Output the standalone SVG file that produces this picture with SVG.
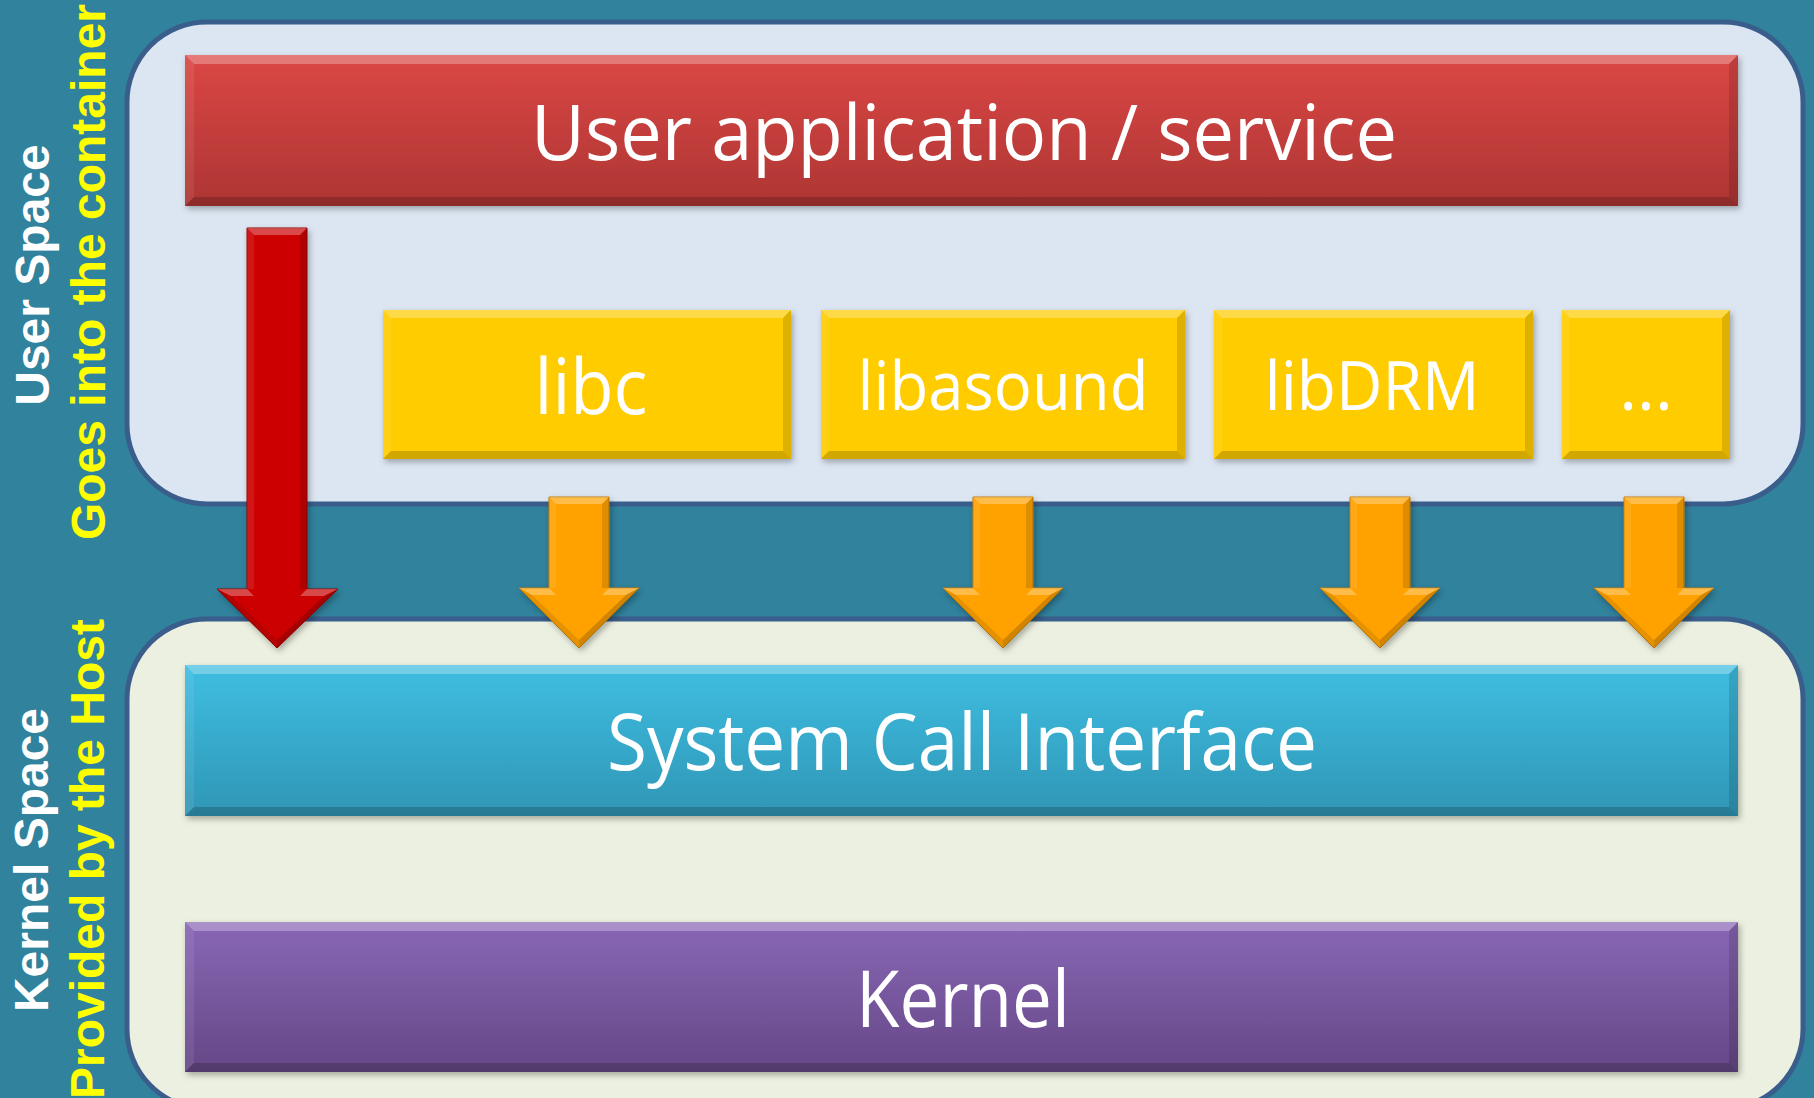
<svg xmlns="http://www.w3.org/2000/svg" width="1814" height="1098" viewBox="0 0 1814 1098">
  <style>
    .panel { stroke: #3A5E8C; stroke-width: 5; }
    .side { font-family: "Liberation Sans", Arial, sans-serif; font-weight: bold; font-size: 48px; text-anchor: middle; }
    .side-w { fill: #FFFFFF; }
    .side-y { fill: #FFFF00; }
    .label { font-family: "Open Sans", "Noto Sans", sans-serif; fill: #FFFFFF; text-anchor: middle; }
    .hl { fill: #FFFFFF; opacity: 0.28; }
    .hl-soft { fill: #FFFFFF; opacity: 0.08; }
    .sh { fill: #000000; opacity: 0.18; }
    .sh-side { fill: #000000; opacity: 0.13; }
    .sh-soft { fill: #000000; opacity: 0.10; }
  </style>
  <defs>
    <linearGradient id="gRed" x1="0" y1="0" x2="0" y2="1">
      <stop offset="0" stop-color="#DB4745"/>
      <stop offset="1" stop-color="#AD3533"/>
    </linearGradient>
    <linearGradient id="gCyan" x1="0" y1="0" x2="0" y2="1">
      <stop offset="0" stop-color="#3FBEE2"/>
      <stop offset="1" stop-color="#2F96B5"/>
    </linearGradient>
    <linearGradient id="gPurple" x1="0" y1="0" x2="0" y2="1">
      <stop offset="0" stop-color="#8967B6"/>
      <stop offset="1" stop-color="#654786"/>
    </linearGradient>
    <filter id="shadow" x="-5%" y="-10%" width="110%" height="130%">
      <feDropShadow dx="2" dy="3" stdDeviation="3" flood-color="#000000" flood-opacity="0.3"/>
    </filter>
    <!-- orange connector arrow, top-centre at origin -->
    <g id="arrowOrange">
      <path d="M-30,0 L30,0 L30,91 L60,91 L0,151 L-60,91 L-30,91 Z" fill="#FFA202" stroke="#C47A00" stroke-width="1"/>
      <path class="hl" d="M-30,0 L30,0 L23,7 L-23,7 Z"/>
      <path class="hl-soft" d="M-30,0 L-23,7 L-23,91 L-30,91 Z"/>
      <path class="sh-side" d="M30,0 L23,7 L23,91 L30,91 Z"/>
      <path class="hl" d="M-60,91 L-30,91 L-23,98 L-47,98 Z"/>
      <path class="hl" d="M30,91 L60,91 L47,98 L23,98 Z"/>
      <path class="sh-soft" d="M-60,91 L-47,98 L0,143 L0,151 Z"/>
      <path class="sh" d="M60,91 L0,151 L0,143 L47,98 Z"/>
    </g>
  </defs>

  <!-- backdrop -->
  <rect id="background" x="0" y="0" width="1814" height="1098" fill="#31829D"/>

  <!-- user space container -->
  <g id="panel-user">
    <rect class="panel" x="127" y="22" width="1676" height="482" rx="80" ry="80" fill="#DCE6F2"/>
  </g>

  <!-- kernel space container -->
  <g id="panel-kernel">
    <rect class="panel" x="127" y="619" width="1676" height="490" rx="80" ry="80" fill="#EBF0E0"/>
  </g>

  <!-- vertical side captions -->
  <g id="side-labels">
    <text class="side side-w" transform="translate(49,275) rotate(-90)">User Space</text>
    <text class="side side-y" transform="translate(105,272) rotate(-90)">Goes into the container</text>
    <text class="side side-w" transform="translate(48,860) rotate(-90)">Kernel Space</text>
    <text class="side side-y" transform="translate(104,859) rotate(-90)">Provided by the Host</text>
  </g>

  <!-- user application -->
  <g id="node-app">
    <rect x="185" y="55" width="1553" height="151" fill="url(#gRed)" filter="url(#shadow)"/>
    <path class="hl" d="M185,55 L1738,55 L1729,64 L194,64 Z"/>
    <path class="hl-soft" d="M185,55 L194,64 L194,197 L185,206 Z"/>
    <path class="sh-side" d="M1738,55 L1729,64 L1729,197 L1738,206 Z"/>
    <path class="sh" d="M185,206 L1738,206 L1729,197 L194,197 Z"/>
    <text class="label" x="964" y="160" font-size="77" textLength="866" lengthAdjust="spacingAndGlyphs">User application / service</text>
  </g>

  <!-- libraries -->
  <g id="node-libc">
    <rect x="383" y="310" width="408" height="149" fill="#FFCC05" filter="url(#shadow)"/>
    <path class="hl" d="M383,310 L791,310 L783,318 L391,318 Z"/>
    <path class="hl-soft" d="M383,310 L391,318 L391,451 L383,459 Z"/>
    <path class="sh-side" d="M791,310 L783,318 L783,451 L791,459 Z"/>
    <path class="sh" d="M383,459 L791,459 L783,451 L391,451 Z"/>
    <text class="label" x="591" y="414" font-size="76" textLength="113" lengthAdjust="spacingAndGlyphs">libc</text>
  </g>
  <g id="node-libasound">
    <rect x="821" y="310" width="364" height="149" fill="#FFCC05" filter="url(#shadow)"/>
    <path class="hl" d="M821,310 L1185,310 L1177,318 L829,318 Z"/>
    <path class="hl-soft" d="M821,310 L829,318 L829,451 L821,459 Z"/>
    <path class="sh-side" d="M1185,310 L1177,318 L1177,451 L1185,459 Z"/>
    <path class="sh" d="M821,459 L1185,459 L1177,451 L829,451 Z"/>
    <text class="label" x="1003" y="410" font-size="67" textLength="291" lengthAdjust="spacingAndGlyphs">libasound</text>
  </g>
  <g id="node-libdrm">
    <rect x="1214" y="310" width="319" height="149" fill="#FFCC05" filter="url(#shadow)"/>
    <path class="hl" d="M1214,310 L1533,310 L1525,318 L1222,318 Z"/>
    <path class="hl-soft" d="M1214,310 L1222,318 L1222,451 L1214,459 Z"/>
    <path class="sh-side" d="M1533,310 L1525,318 L1525,451 L1533,459 Z"/>
    <path class="sh" d="M1214,459 L1533,459 L1525,451 L1222,451 Z"/>
    <text class="label" x="1372" y="410" font-size="68" textLength="215" lengthAdjust="spacingAndGlyphs">libDRM</text>
  </g>
  <g id="node-more">
    <rect x="1562" y="310" width="168" height="149" fill="#FFCC05" filter="url(#shadow)"/>
    <path class="hl" d="M1562,310 L1730,310 L1722,318 L1570,318 Z"/>
    <path class="hl-soft" d="M1562,310 L1570,318 L1570,451 L1562,459 Z"/>
    <path class="sh-side" d="M1730,310 L1722,318 L1722,451 L1730,459 Z"/>
    <path class="sh" d="M1562,459 L1730,459 L1722,451 L1570,451 Z"/>
    <text class="label" x="1646" y="410" font-size="68">...</text>
  </g>

  <!-- system call interface -->
  <g id="node-syscall">
    <rect x="185" y="665" width="1553" height="151" fill="url(#gCyan)" filter="url(#shadow)"/>
    <path class="hl" d="M185,665 L1738,665 L1729,674 L194,674 Z"/>
    <path class="hl-soft" d="M185,665 L194,674 L194,807 L185,816 Z"/>
    <path class="sh-side" d="M1738,665 L1729,674 L1729,807 L1738,816 Z"/>
    <path class="sh" d="M185,816 L1738,816 L1729,807 L194,807 Z"/>
    <text class="label" x="962" y="770" font-size="78" textLength="710" lengthAdjust="spacingAndGlyphs">System Call Interface</text>
  </g>

  <!-- kernel -->
  <g id="node-kernel">
    <rect x="185" y="922" width="1553" height="150" fill="url(#gPurple)" filter="url(#shadow)"/>
    <path class="hl" d="M185,922 L1738,922 L1729,931 L194,931 Z"/>
    <path class="hl-soft" d="M185,922 L194,931 L194,1063 L185,1072 Z"/>
    <path class="sh-side" d="M1738,922 L1729,931 L1729,1063 L1738,1072 Z"/>
    <path class="sh" d="M185,1072 L1738,1072 L1729,1063 L194,1063 Z"/>
    <text class="label" x="963" y="1027" font-size="78" textLength="214" lengthAdjust="spacingAndGlyphs">Kernel</text>
  </g>

  <!-- connectors -->
  <g id="connectors">
    <!-- direct call from the application down to the syscall layer -->
    <g id="arrow-direct" filter="url(#shadow)">
      <path d="M247,228 L307,228 L307,589 L338,589 L277,648 L217,589 L247,589 Z" fill="#CC0202" stroke="#8E0000" stroke-width="1"/>
      <path class="hl" d="M247,228 L307,228 L300,235 L254,235 Z"/>
      <path class="hl-soft" d="M247,228 L254,235 L254,589 L247,589 Z"/>
      <path class="sh-side" d="M307,228 L300,235 L300,589 L307,589 Z"/>
      <path class="hl" d="M217,589 L247,589 L254,596 L231,596 Z"/>
      <path class="hl" d="M307,589 L338,589 L324,596 L300,596 Z"/>
      <path class="sh-soft" d="M217,589 L231,596 L277,640 L277,648 Z"/>
      <path class="sh" d="M338,589 L277,648 L277,640 L324,596 Z"/>
    </g>
    <use href="#arrowOrange" transform="translate(579,497)" filter="url(#shadow)"/>
    <use href="#arrowOrange" transform="translate(1003,497)" filter="url(#shadow)"/>
    <use href="#arrowOrange" transform="translate(1380,497)" filter="url(#shadow)"/>
    <use href="#arrowOrange" transform="translate(1654,497)" filter="url(#shadow)"/>
  </g>
</svg>
